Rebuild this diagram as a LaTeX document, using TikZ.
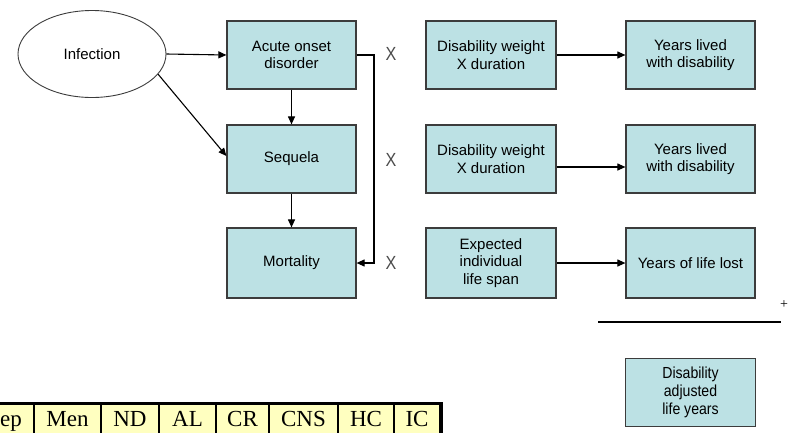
\documentclass[tikz,border=0pt]{standalone}
\usepackage{fontspec}
\setmainfont{Liberation Sans}
\newfontfamily\narrowfont[FakeStretch=0.88]{Liberation Sans}
\newfontfamily\xfont[FakeStretch=0.85]{Liberation Sans}
\newfontfamily\tabfont{Liberation Serif}
\usetikzlibrary{shapes.geometric,arrows.meta}
\definecolor{boxfill}{RGB}{188,225,228}
\definecolor{boxline}{RGB}{60,60,60}
\definecolor{cellfill}{RGB}{255,255,192}
\tikzset{
  box/.style={draw=boxline, line width=1.2pt, fill=boxfill, minimum width=129pt, minimum height=68pt,
    inner sep=0pt, align=center, font=\fontsize{15}{17.5}\selectfont},
  dalybox/.style={box, font=\narrowfont\fontsize{16}{18}\selectfont},
  ell/.style={draw=boxline, line width=0.9pt, fill=white, ellipse, minimum width=148pt, minimum height=87pt,
    inner sep=0pt, font=\fontsize{15}{17.5}\selectfont},
  conn/.style={line width=1.1pt, -{Triangle[length=8pt,width=7pt]}},
  xlab/.style={text=black!70, font=\xfont\fontsize{19}{19}\selectfont, inner sep=0pt},
  cell/.style={draw=black, line width=2pt, fill=cellfill},
  celltext/.style={font=\tabfont\fontsize{23}{23}\selectfont, anchor=base, inner sep=0pt}
}
\begin{document}
\begin{tikzpicture}[x=1pt,y=-1pt]
\clip (0,0) rectangle (789,432);
\fill[white] (0,0) rectangle (789,432);
% left column
\node[ell] (inf) at (92,54) {Infection};
\node[box] (ac) at (291.5,55) {Acute onset\\disorder};
\node[box] (seq) at (291.5,159) {Sequela};
\node[box, minimum height=70pt] (mort) at (291.5,263) {Mortality};
% middle column
\node[box, minimum width=130pt] (d1) at (491,55) {Disability weight\\X duration};
\node[box, minimum width=130pt] (d2) at (491,159) {Disability weight\\X duration};
\node[box, minimum width=130pt, minimum height=70pt] (d3) at (491,263) {Expected\\individual\\life span};
% right column
\node[box] (y1) at (690.5,55) {Years lived\\with disability};
\node[box] (y2) at (690.5,159) {Years lived\\with disability};
\node[box, minimum height=70pt] (y3) at (690.5,263) {Years of life lost};
\node[dalybox, minimum width=130pt] (daly) at (690.5,392.5) {Disability\\adjusted\\life years};
% X labels
\node[xlab] (x1) at (391,54) {X};
\node[xlab] (x2) at (391,160) {X};
\node[xlab] (x3) at (391,263) {X};
% connectors
\draw[conn] (inf.east) -- (ac.west);
\draw[conn] (inf.-17) -- ([yshift=3pt]seq.west);
\draw[conn] (ac.south) -- (seq.north);
\draw[conn] (seq.south) -- (mort.north);
\coordinate (br) at (374,0);
\draw[conn] (ac.east) -- (ac.east -| br) -- (mort.east -| br) -- (mort.east);
\draw[conn] (d1.east) -- (y1.west);
\draw[conn] ([yshift=-8pt]d2.east) -- ([yshift=-8pt]y2.west);
\draw[conn] (d3.east) -- (y3.west);
% sum line
\coordinate (s1) at (598,322);
\coordinate (s2) at (781,322);
\draw[line width=2.5pt] (s1) -- (s2);
\node[font=\tabfont\fontsize{14}{14}\selectfont, inner sep=0pt] (plus) at (784,305) {+};
% table
\foreach \a/\b/\t/\c in {-20/34/ep/11, 34/101/Men/67.5, 101/159/ND/130, 159/216/AL/187.5,
  216/269/CR/242.5, 269/338/CNS/303.5, 338/394/HC/366, 394/440/IC/417}{
  \draw[cell] (\a,403) rectangle (\b,445);
  \node[celltext] at (\c,426) {\t};
}
\draw[line width=3pt] (-5,403) -- (441,403) -- (441,445);
\end{tikzpicture}
\end{document}
